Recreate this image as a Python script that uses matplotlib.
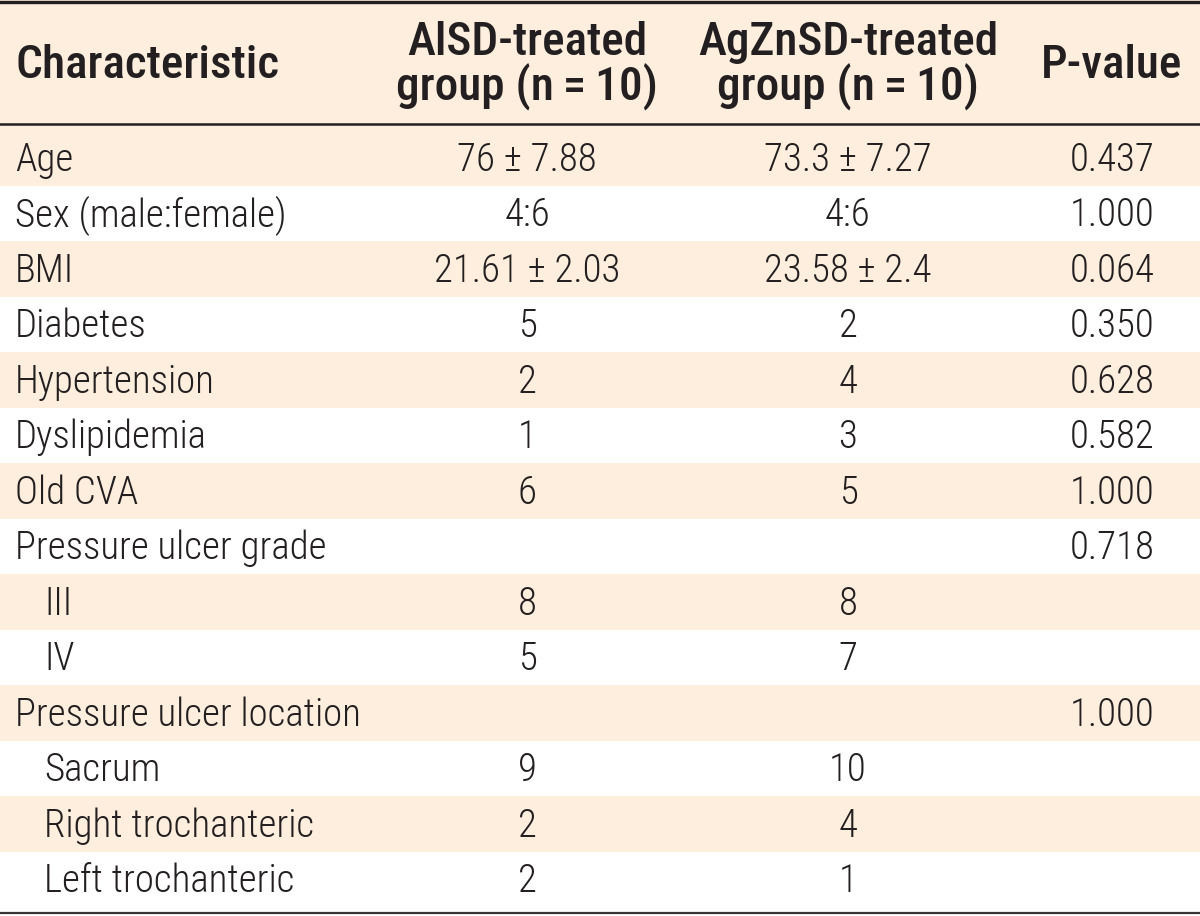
import matplotlib.pyplot as plt

plt.rcParams['font.family'] = ['Roboto Condensed', 'DejaVu Sans']
plt.rcParams['font.stretch'] = 'condensed'

headers = ['Characteristic', 'AlSD-treated\ngroup (n\u2009=\u200910)',
           'AgZnSD-treated\ngroup (n\u2009=\u200910)', 'P-value']
characteristics = ['Age', 'Sex (male:female)', 'BMI', 'Diabetes', 'Hypertension',
                   'Dyslipidemia', 'Old CVA', 'Pressure ulcer grade', 'III', 'IV',
                   'Pressure ulcer location', 'Sacrum', 'Right trochanteric',
                   'Left trochanteric']
indented = [False, False, False, False, False, False, False, False, True, True,
            False, True, True, True]
alsd = ['76 \u00b1 7.88', '4:6', '21.61 \u00b1 2.03', '5', '2', '1', '6', '', '8', '5',
        '', '9', '2', '2']
agznsd = ['73.3 \u00b1 7.27', '4:6', '23.58 \u00b1 2.4', '2', '4', '3', '5', '', '8', '7',
          '', '10', '4', '1']
p_values = ['0.437', '1.000', '0.064', '0.350', '0.628', '0.582', '1.000', '0.718',
            '', '', '1.000', '', '', '']

shade = '#fdeedd'
ink = '#231f20'

W, H = 1200, 916
fig = plt.figure(figsize=(W / 100, H / 100), dpi=100)
ax = fig.add_axes([0, 0, 1, 1])
ax.set_xlim(0, W)
ax.set_ylim(H, 0)
ax.axis('off')

header_bottom = 124
first_center = 160
row_h = 55.5
col_x = [15, 527, 848, 1112]

# header band
ax.axhspan(0, header_bottom, color=shade, lw=0)

# alternating row bands
for i in range(len(characteristics)):
    yc = first_center - 2 + i * row_h
    top = header_bottom if i == 0 else yc - row_h / 2
    if i % 2 == 0:
        ax.axhspan(top, yc + row_h / 2, color=shade, lw=0)

# rules
ax.axhline(2, color=ink, lw=2.4)
ax.axhline(header_bottom, color=ink, lw=1.8)
ax.axhline(913, color='#3a3434', lw=1.6)

# header text
hdr = dict(fontsize=34, fontweight='medium', color=ink, va='center', linespacing=1.0)
ax.text(col_x[0], 66, headers[0], ha='left', **hdr)
ax.text(col_x[1], 66, headers[1], ha='center', multialignment='center', **hdr)
ax.text(col_x[2], 66, headers[2], ha='center', multialignment='center', **hdr)
ax.text(col_x[3], 66, headers[3], ha='center', **hdr)

body = dict(fontsize=28, fontweight='light', color=ink, va='center')
for i, name in enumerate(characteristics):
    yc = first_center + i * row_h
    ax.text(col_x[0] + (29 if indented[i] else 0), yc, name, ha='left', **body)
    ax.text(col_x[1], yc, alsd[i], ha='center', **body)
    ax.text(col_x[2], yc, agznsd[i], ha='center', **body)
    ax.text(col_x[3], yc, p_values[i], ha='center', **body)

fig.savefig('out.png', dpi=100)
